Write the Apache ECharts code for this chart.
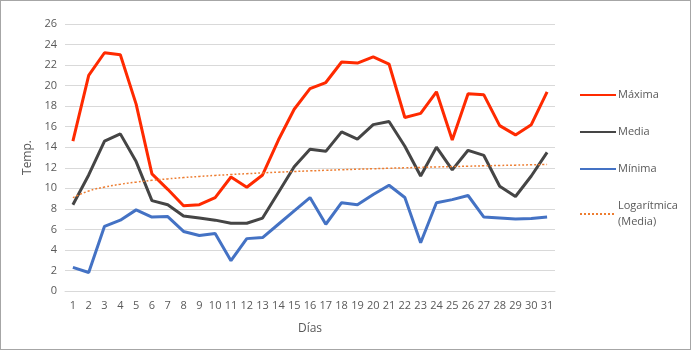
<!DOCTYPE html>
<html>
<head>
<meta charset="utf-8">
<script src="https://cdn.jsdelivr.net/npm/echarts@6/dist/echarts.min.js"></script>
<style>
  html, body { margin: 0; padding: 0; background: #fff; }
  #chart { width: 695px; height: 351px; }
  #frame { position: absolute; left: 0; top: 0; width: 689px; height: 348px; border: 1px solid #a6a6a6; pointer-events: none; }
</style>
</head>
<body>
<div id="chart"></div>
<div id="frame"></div>
<script>
var dias = [];
for (var d = 1; d <= 31; d++) dias.push(String(d));

var maxima = [14.6, 21.0, 23.2, 23.0, 18.2, 11.4, 9.9, 8.3, 8.4, 9.1, 11.1, 10.1, 11.3, 14.7, 17.7, 19.7,
  20.3, 22.3, 22.2, 22.8, 22.1, 16.9, 17.3, 19.4, 14.7, 19.2, 19.1, 16.1, 15.2, 16.2, 19.4];
var media = [8.4, 11.3, 14.6, 15.3, 12.6, 8.8, 8.4, 7.3, 7.1, 6.9, 6.6, 6.6, 7.1, 9.6, 12.1, 13.8,
  13.6, 15.5, 14.8, 16.2, 16.5, 14.1, 11.2, 14.0, 11.8, 13.7, 13.2, 10.2, 9.2, 11.2, 13.5];
var minima = [2.3, 1.8, 6.3, 6.9, 7.9, 7.2, 7.25, 5.8, 5.4, 5.6, 2.95, 5.1, 5.2, 6.5, 7.8, 9.1,
  6.5, 8.6, 8.4, 9.4, 10.3, 9.1, 4.7, 8.6, 8.9, 9.3, 7.2, 7.1, 7.0, 7.05, 7.2];
var yTicks = { min: 0, max: 26, step: 2 };

// logarithmic trendline of "media" (least squares on ln(x)), like Excel does
function logTrend(vals) {
  var n = vals.length, sx = 0, sy = 0, sxx = 0, sxy = 0;
  vals.forEach(function (v, i) {
    var lx = Math.log(i + 1);
    sx += lx; sy += v; sxx += lx * lx; sxy += lx * v;
  });
  var a = (n * sxy - sx * sy) / (n * sxx - sx * sx);
  var b = (sy - a * sx) / n;
  return vals.map(function (v, i) { return +(a * Math.log(i + 1) + b).toFixed(3); });
}
var tendencia = logTrend(media);

var chartDom = document.getElementById('chart');
var myChart = echarts.init(chartDom);
var option;

var txt = '#595959';
option = {
  animation: false,
  textStyle: { fontFamily: 'Open Sans, Noto Sans, sans-serif' },
  grid: { left: 65, right: 140, top: 24, bottom: 60 },
  legend: {
    orient: 'vertical',
    left: 574,
    top: 82,
    itemWidth: 36,
    itemHeight: 10,
    itemGap: 21,
    itemStyle: { opacity: 0 },
    textStyle: { color: txt, fontSize: 11, lineHeight: 16, fontFamily: 'Open Sans, Noto Sans, sans-serif', padding: [0, 0, 0, -3] },
    data: ['Máxima', 'Media', 'Mínima', 'Logarítmica\n(Media)']
  },
  xAxis: {
    type: 'category',
    data: dias,
    boundaryGap: true,
    name: 'Días',
    nameLocation: 'middle',
    nameGap: 32,
    nameTextStyle: { color: txt, fontSize: 12 },
    axisTick: { show: false },
    axisLine: { lineStyle: { color: '#d9d9d9' } },
    axisLabel: { color: txt, fontSize: 11, margin: 9, interval: 0 }
  },
  yAxis: {
    type: 'value',
    min: yTicks.min,
    max: yTicks.max,
    interval: yTicks.step,
    name: 'Temp.',
    nameLocation: 'middle',
    nameGap: 31,
    nameRotate: 90,
    nameTextStyle: { color: txt, fontSize: 12 },
    axisLine: { show: false },
    axisTick: { show: false },
    axisLabel: { color: txt, fontSize: 11, margin: 8 },
    splitLine: { lineStyle: { color: '#d9d9d9', width: 1 } }
  },
  series: [
    {
      name: 'Máxima', type: 'line', data: maxima, symbol: 'none',
      color: '#ff2a00', lineStyle: { width: 3, color: '#ff2a00' }
    },
    {
      name: 'Media', type: 'line', data: media, symbol: 'none',
      color: '#454545', lineStyle: { width: 3, color: '#454545' }
    },
    {
      name: 'Mínima', type: 'line', data: minima, symbol: 'none',
      color: '#4472c4', lineStyle: { width: 3, color: '#4472c4' }
    },
    {
      name: 'Logarítmica\n(Media)', type: 'line', data: tendencia, symbol: 'none', smooth: true,
      color: '#ed7d31', lineStyle: { width: 1.5, color: '#ed7d31', type: [2, 2] }
    }
  ]
};

option && myChart.setOption(option);
</script>
</body>
</html>
